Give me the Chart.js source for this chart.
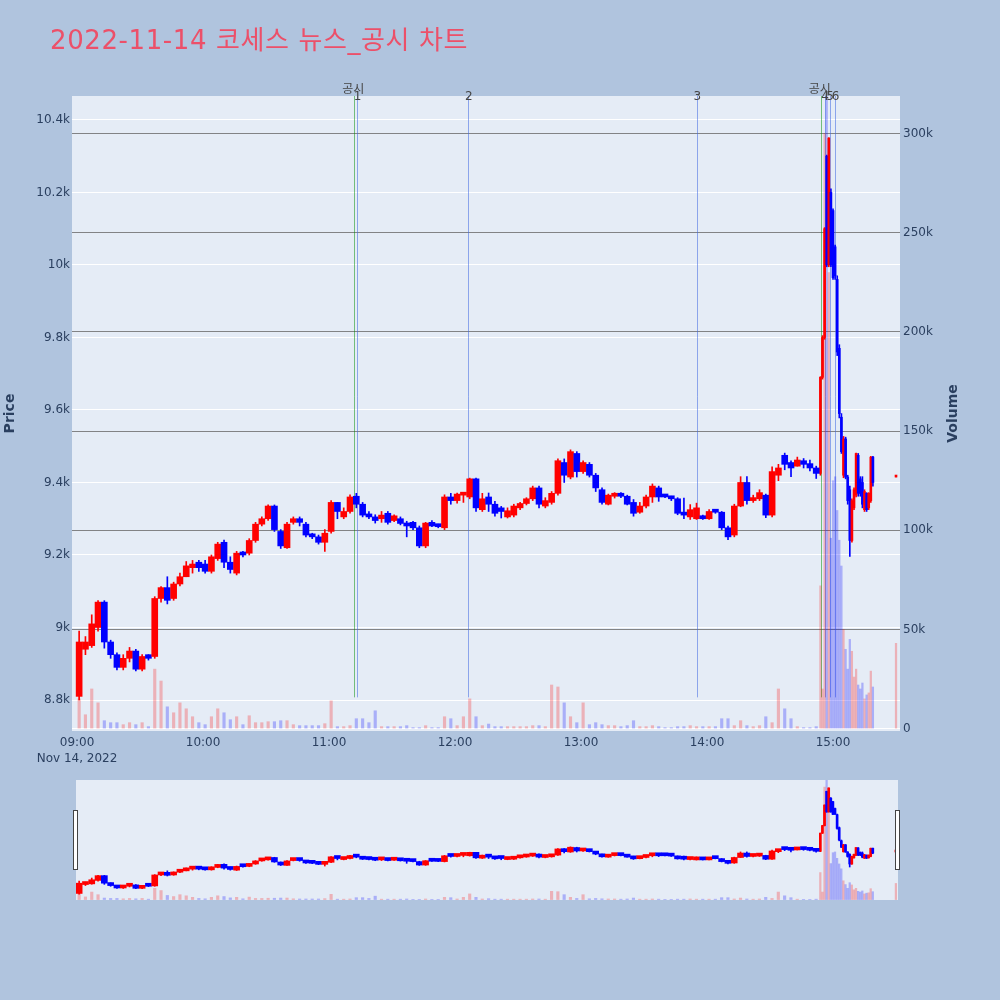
<!DOCTYPE html>
<html lang="ko">
<head>
<meta charset="UTF-8">
<title>2022-11-14 코세스 뉴스_공시 차트</title>
<script src="https://cdn.jsdelivr.net/npm/chart.js"></script>
<style>
    body {
        margin: 0;
        width: 1000px;
        height: 1000px;
        background: #b0c4de;
        position: relative;
        overflow: hidden;
        font-family: "DejaVu Sans", "Noto Sans CJK KR", sans-serif;
    }
    #title {
        position: absolute;
        left: 50px;
        top: 19px;
        font-size: 26px;
        letter-spacing: 0.6px;
        color: #ec5069;
        white-space: nowrap;
    }
    #main { position: absolute; left: 0; top: 0; }
    #slider { position: absolute; left: 0; top: 780px; }
</style>
</head>
<body>

<canvas id="main" width="1000" height="770"></canvas>
<canvas id="slider" width="1000" height="120"></canvas>
<div id="title">2022-11-14 코세스 뉴스_공시 차트</div>

<script>
const dateLabel = 'Nov 14, 2022';
const timeTicks = ['09:00', '10:00', '11:00', '12:00', '13:00', '14:00', '15:00'];
const priceTicks = [8800, 9000, 9200, 9400, 9600, 9800, 10000, 10200, 10400];
const volumeTicks = [0, 50000, 100000, 150000, 200000, 250000, 300000];

// 3-minute candles, 09:00 - 14:53
const open3 = [8810, 8940, 8950, 9000, 9070, 8960, 8925, 8890, 8915, 8935,
    8885, 8925, 8920, 9080, 9110, 9080, 9120, 9140, 9165, 9180,
    9175, 9155, 9190, 9235, 9180, 9150, 9205, 9205, 9240, 9285,
    9300, 9335, 9265, 9220, 9290, 9300, 9285, 9255, 9250, 9235,
    9265, 9345, 9305, 9320, 9362, 9340, 9310, 9305, 9300, 9315,
    9295, 9300, 9288, 9290, 9275, 9225, 9290, 9282, 9275, 9360,
    9350, 9365, 9360, 9410, 9325, 9360, 9340, 9330, 9305, 9310,
    9330, 9342, 9355, 9385, 9335, 9345, 9370, 9455, 9415, 9480,
    9430, 9450, 9420, 9380, 9340, 9362, 9370, 9362, 9345, 9318,
    9335, 9360, 9385, 9362, 9360, 9355, 9318, 9305, 9300, 9305,
    9300, 9322, 9318, 9275, 9255, 9335, 9400, 9350, 9355, 9365,
    9310, 9420, 9475, 9455, 9445, 9460, 9452, 9440];
const high3 = [8990, 8975, 9035, 9074, 9074, 8965, 8930, 8925, 8945, 8940,
    8925, 8925, 9085, 9113, 9140, 9125, 9150, 9182, 9185, 9185,
    9185, 9200, 9235, 9241, 9195, 9210, 9210, 9245, 9290, 9305,
    9338, 9338, 9270, 9290, 9305, 9305, 9290, 9260, 9255, 9270,
    9350, 9345, 9330, 9366, 9370, 9345, 9320, 9311, 9320, 9320,
    9311, 9305, 9293, 9293, 9280, 9290, 9295, 9285, 9366, 9370,
    9371, 9372, 9412, 9412, 9370, 9371, 9348, 9334, 9330, 9340,
    9345, 9358, 9390, 9390, 9358, 9375, 9465, 9465, 9490, 9485,
    9460, 9455, 9425, 9385, 9368, 9372, 9372, 9365, 9353, 9345,
    9365, 9396, 9390, 9364, 9362, 9358, 9357, 9339, 9343, 9310,
    9325, 9326, 9320, 9280, 9340, 9416, 9416, 9365, 9380, 9368,
    9443, 9450, 9481, 9460, 9470, 9466, 9462, 9445];
const low3 = [8800, 8925, 8945, 8990, 8943, 8915, 8883, 8883, 8905, 8880,
    8880, 8910, 8915, 9070, 9065, 9075, 9115, 9140, 9150, 9155,
    9150, 9150, 9185, 9165, 9150, 9145, 9195, 9200, 9235, 9280,
    9295, 9265, 9218, 9218, 9285, 9280, 9250, 9245, 9230, 9210,
    9260, 9300, 9300, 9315, 9330, 9305, 9300, 9288, 9290, 9285,
    9292, 9283, 9250, 9270, 9220, 9220, 9278, 9275, 9270, 9340,
    9343, 9345, 9355, 9320, 9320, 9320, 9307, 9302, 9302, 9305,
    9325, 9338, 9350, 9330, 9330, 9340, 9365, 9400, 9410, 9415,
    9425, 9415, 9375, 9340, 9338, 9357, 9358, 9338, 9307, 9315,
    9330, 9345, 9348, 9358, 9350, 9311, 9300, 9298, 9298, 9298,
    9298, 9315, 9270, 9242, 9250, 9333, 9340, 9345, 9350, 9303,
    9305, 9405, 9435, 9416, 9445, 9440, 9432, 9411];
const close3 = [8960, 8960, 9010, 9070, 8960, 8925, 8890, 8915, 8935, 8885,
    8920, 8915, 9080, 9110, 9075, 9120, 9140, 9170, 9175, 9165,
    9155, 9195, 9230, 9180, 9160, 9205, 9200, 9240, 9285, 9300,
    9335, 9270, 9225, 9285, 9300, 9290, 9255, 9250, 9235, 9260,
    9345, 9320, 9320, 9360, 9340, 9310, 9305, 9295, 9310, 9290,
    9308, 9287, 9280, 9275, 9225, 9288, 9280, 9278, 9360, 9350,
    9368, 9370, 9410, 9330, 9355, 9340, 9315, 9320, 9322, 9335,
    9342, 9355, 9385, 9340, 9350, 9370, 9460, 9420, 9485, 9430,
    9455, 9420, 9385, 9345, 9365, 9368, 9362, 9340, 9315, 9335,
    9360, 9390, 9360, 9360, 9355, 9315, 9310, 9325, 9330, 9300,
    9320, 9318, 9275, 9250, 9335, 9400, 9350, 9358, 9372, 9310,
    9430, 9440, 9450, 9440, 9462, 9450, 9440, 9425];
const vol3 = [15000, 7000, 20000, 13000, 4000, 3000, 3000, 2000, 3000, 2000,
    3000, 1000, 30000, 24000, 11000, 8000, 13000, 10000, 6000, 3000,
    2000, 6000, 10000, 8000, 4500, 6000, 2000, 6500, 3000, 3000,
    3500, 3500, 4000, 4000, 2000, 1500, 1500, 1500, 1500, 2500,
    14000, 1000, 1000, 1500, 5000, 5000, 3000, 9000, 1000, 1000,
    1000, 1000, 1500, 500, 500, 1500, 500, 500, 6000, 5000,
    1500, 6000, 15000, 6000, 1500, 2300, 1000, 1000, 1000, 1000,
    1000, 1000, 1500, 1500, 1000, 22000, 21000, 13000, 6000, 3000,
    13000, 2000, 3000, 2000, 1500, 1500, 1000, 1500, 4000, 1000,
    1000, 1500, 1000, 500, 500, 1000, 1000, 1500, 1000, 1000,
    1000, 1000, 5000, 5000, 1500, 4000, 1500, 1000, 1500, 6000,
    3000, 20000, 10000, 5000, 1000, 500, 500, 1000];

// 1-minute candles after the 14:54 disclosure, plus the 15:30 close
const times1 = ['14:54', '14:55', '14:56', '14:57', '14:58', '14:59', '15:00', '15:01', '15:02', '15:03',
    '15:04', '15:05', '15:06', '15:07', '15:08', '15:09', '15:10', '15:11', '15:12', '15:13',
    '15:14', '15:15', '15:16', '15:17', '15:18', '15:19', '15:30'];
const open1 = [9425, 9690, 9800, 10300, 10000, 10200, 10150, 10050, 9960, 9770,
    9580, 9420, 9520, 9415, 9380, 9240, 9330, 9365, 9475, 9410,
    9400, 9325, 9370, 9330, 9350, 9470, 9415];
const high1 = [9692, 9805, 10103, 10303, 10351, 10210, 10155, 10055, 9970, 9780,
    9590, 9527, 9525, 9420, 9390, 9355, 9385, 9481, 9480, 9416,
    9416, 9380, 9372, 9372, 9472, 9472, 9420];
const low1 = [9420, 9685, 9795, 9995, 9995, 9995, 9960, 9960, 9750, 9578,
    9480, 9413, 9410, 9340, 9196, 9235, 9325, 9360, 9362, 9362,
    9330, 9320, 9320, 9325, 9345, 9390, 9415];
const close1 = [9690, 9800, 10100, 10000, 10350, 10000, 9965, 9970, 9760, 9590,
    9485, 9520, 9415, 9350, 9240, 9350, 9380, 9480, 9370, 9370,
    9340, 9375, 9325, 9370, 9470, 9400, 9420];
const vol1 = [72000, 20000, 300000, 320000, 230000, 96000, 125000, 127000, 110000, 95000,
    82000, 50000, 40000, 30000, 45000, 39000, 26000, 30000, 22000, 20000,
    23000, 15000, 17000, 18000, 29000, 21000, 43000];

// vertical event markers
const noticeTimes = ['11:12:00', '14:54:10'];
const noticeLabel = '공시';
const newsTimes = ['11:13:20', '12:06:20', '13:55:10', '14:56:00', '14:58:20', '15:01:00'];
const newsLabels = ['1', '2', '3', '4', '5', '6'];

const UP = '#ff0000', DOWN = '#0000ff';
const UP_VOL = 'rgba(255,0,0,0.25)', DOWN_VOL = 'rgba(0,0,255,0.26)';
const TEXT = '#2a3f5f';
const FONT = '"DejaVu Sans", "Noto Sans CJK KR", sans-serif';

function minutesOf(t) {
    const p = t.split(':').map(Number);
    return (p[0] - 9) * 60 + p[1] + (p[2] || 0) / 60;
}
function clock(m) {
    const h = 9 + Math.floor(m / 60), mm = m % 60;
    return String(h).padStart(2, '0') + ':' + String(mm).padStart(2, '0');
}

const times3 = open3.map((_, i) => clock(i * 3));
// 3-minute buckets are drawn at their middle minute
const x3 = times3.map(t => minutesOf(t) + 1);
const x1 = times1.map(t => minutesOf(t));

function makeDatasets() {
    const c3 = open3.map((o, i) => close3[i] >= o);
    const c1 = open1.map((o, i) => close1[i] >= o);
    const common = { type: 'bar', grouped: false };
    return [
        Object.assign({}, common, {
            data: x3.map((x, i) => ({ x: x, y: [open3[i], close3[i]] })),
            backgroundColor: c3.map(u => u ? UP : DOWN),
            barThickness: 6, minBarLength: 3, yAxisID: 'y', order: 0
        }),
        Object.assign({}, common, {
            data: x1.map((x, i) => ({ x: x, y: [open1[i], close1[i]] })),
            backgroundColor: c1.map(u => u ? UP : DOWN),
            barThickness: 2, minBarLength: 2, yAxisID: 'y', order: 0
        }),
        Object.assign({}, common, {
            data: x3.map((x, i) => ({ x: x, y: [low3[i], high3[i]] })),
            backgroundColor: c3.map(u => u ? UP : DOWN),
            barThickness: 1, yAxisID: 'y', order: 1
        }),
        Object.assign({}, common, {
            data: x1.map((x, i) => ({ x: x, y: [low1[i], high1[i]] })),
            backgroundColor: c1.map(u => u ? UP : DOWN),
            barThickness: 1, yAxisID: 'y', order: 1
        }),
        Object.assign({}, common, {
            data: x3.map((x, i) => ({ x: x, y: vol3[i] })),
            backgroundColor: c3.map(u => u ? UP_VOL : DOWN_VOL),
            barThickness: 2.5, yAxisID: 'y2', order: 3
        }),
        Object.assign({}, common, {
            data: x1.map((x, i) => ({ x: x, y: vol1[i] })),
            backgroundColor: c1.map(u => u ? UP_VOL : DOWN_VOL),
            barThickness: 1.6, yAxisID: 'y2', order: 3
        })
    ];
}

const plotBg = {
    id: 'plotBg',
    beforeDraw(chart) {
        const a = chart.chartArea, ctx = chart.ctx;
        ctx.save();
        ctx.fillStyle = '#e5ecf6';
        ctx.fillRect(a.left, a.top, a.right - a.left, a.bottom - a.top);
        ctx.restore();
    }
};

const markers = {
    id: 'markers',
    beforeDatasetsDraw(chart) {
        const a = chart.chartArea, ctx = chart.ctx, xs = chart.scales.x;
        const bottom = a.bottom - (a.bottom - a.top) * 0.053;
        ctx.save();
        ctx.lineWidth = 1;
        noticeTimes.forEach(t => {
            const x = Math.round(xs.getPixelForValue(minutesOf(t))) + 0.5;
            ctx.strokeStyle = 'rgba(0,140,0,0.5)';
            ctx.beginPath(); ctx.moveTo(x, a.top); ctx.lineTo(x, bottom); ctx.stroke();
        });
        newsTimes.forEach(t => {
            const x = Math.round(xs.getPixelForValue(minutesOf(t))) + 0.5;
            ctx.strokeStyle = 'rgba(65,105,225,0.55)';
            ctx.beginPath(); ctx.moveTo(x, a.top); ctx.lineTo(x, bottom); ctx.stroke();
        });
        ctx.restore();
    },
    afterDraw(chart) {
        const a = chart.chartArea, ctx = chart.ctx, xs = chart.scales.x;
        ctx.save();
        ctx.fillStyle = '#444';
        ctx.textAlign = 'center';
        ctx.textBaseline = 'middle';
        ctx.font = '12px ' + FONT;
        noticeTimes.forEach(t => {
            ctx.fillText(noticeLabel, xs.getPixelForValue(minutesOf(t)) - 1, a.top - 6);
        });
        newsTimes.forEach((t, i) => {
            ctx.fillText(newsLabels[i], xs.getPixelForValue(minutesOf(t)) + 0.5, a.top + 1);
        });
        // axis titles
        ctx.fillStyle = TEXT;
        ctx.font = 'bold 14px ' + FONT;
        const mid = (a.top + a.bottom) / 2;
        [['Price', 10], ['Volume', 953]].forEach(([txt, x]) => {
            ctx.save();
            ctx.translate(x, mid);
            ctx.rotate(-Math.PI / 2);
            ctx.fillText(txt, 0, 0);
            ctx.restore();
        });
        ctx.restore();
    }
};

const handles = {
    id: 'handles',
    afterDraw(chart) {
        const a = chart.chartArea, ctx = chart.ctx;
        ctx.save();
        ctx.fillStyle = '#fff';
        ctx.strokeStyle = '#444';
        ctx.lineWidth = 1;
        [a.left, a.right].forEach(x => {
            ctx.fillRect(Math.round(x) - 2, a.top + 30, 4, 60);
            ctx.strokeRect(Math.round(x) - 2.5, a.top + 30.5, 4, 59);
        });
        ctx.restore();
    }
};

const tickFont = { family: FONT, size: 12, lineHeight: 1.3 };

new Chart(document.getElementById('main'), {
    type: 'bar',
    data: { datasets: makeDatasets() },
    options: {
        responsive: false,
        animation: false,
        events: [],
        layout: { padding: { top: 96, left: 0, right: 0, bottom: 0 } },
        plugins: { legend: { display: false }, tooltip: { enabled: false } },
        scales: {
            x: {
                type: 'linear',
                min: -2.4,
                max: 391.9,
                offset: false,
                grid: { display: false, drawTicks: false },
                border: { display: false },
                afterBuildTicks: s => { s.ticks = timeTicks.map(t => ({ value: minutesOf(t) })); },
                afterFit: s => { s.height = 39; },
                ticks: {
                    autoSkip: false, maxRotation: 0, padding: 4, color: TEXT, font: tickFont,
                    callback: (v, i) => i === 0 ? [timeTicks[0], dateLabel] : timeTicks[i]
                }
            },
            y: {
                position: 'left',
                min: 8714.5,
                max: 10466,
                grid: { color: '#ffffff', lineWidth: 1, drawTicks: false },
                border: { display: false },
                afterBuildTicks: s => { s.ticks = priceTicks.map(v => ({ value: v })); },
                afterFit: s => { s.width = 72; },
                ticks: {
                    padding: 2, color: TEXT, font: tickFont,
                    callback: v => parseFloat((v / 1000).toFixed(1)) + 'k'
                }
            },
            y2: {
                position: 'right',
                min: -1200,
                max: 319000,
                grid: {
                    drawTicks: false, lineWidth: 1,
                    color: c => c.tick && c.tick.value === 0 ? '#ffffff' : 'rgba(105,105,105,0.8)'
                },
                border: { display: false },
                afterBuildTicks: s => { s.ticks = volumeTicks.map(v => ({ value: v })); },
                afterFit: s => { s.width = 100; },
                ticks: {
                    padding: 3, color: TEXT, font: tickFont,
                    callback: v => v === 0 ? '0' : (v / 1000) + 'k'
                }
            }
        }
    },
    plugins: [plotBg, markers]
});

new Chart(document.getElementById('slider'), {
    type: 'bar',
    data: { datasets: makeDatasets() },
    options: {
        responsive: false,
        animation: false,
        events: [],
        layout: { padding: { top: 0, left: 76, right: 102, bottom: 0 } },
        plugins: { legend: { display: false }, tooltip: { enabled: false } },
        scales: {
            x: { type: 'linear', min: -0.5, max: 391, offset: false, display: false },
            y: { min: 8714.5, max: 10466, display: false },
            y2: { min: -1200, max: 319000, display: false }
        }
    },
    plugins: [plotBg, handles]
});
</script>

</body>
</html>
